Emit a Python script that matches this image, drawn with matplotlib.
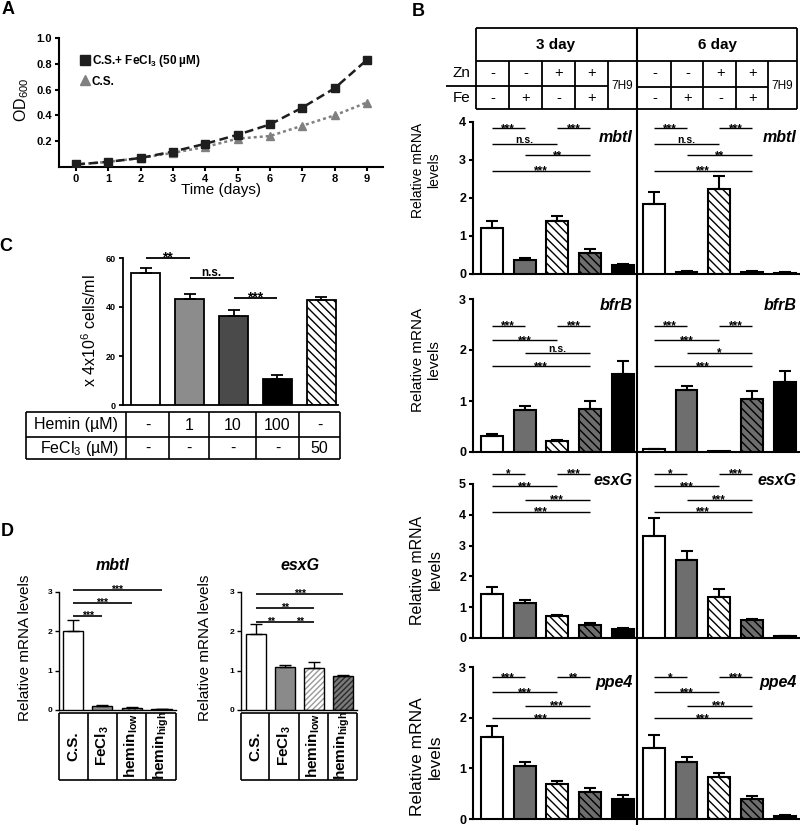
import numpy as np
import matplotlib
matplotlib.use("Agg")
import matplotlib.pyplot as plt
from matplotlib.lines import Line2D

REG = ['Liberation Sans', 'DejaVu Sans']
plt.rcParams['font.family'] = REG
plt.rcParams['mathtext.fontset'] = 'custom'
plt.rcParams['mathtext.rm'] = 'Liberation Sans'
plt.rcParams['mathtext.it'] = 'Liberation Sans:italic'
plt.rcParams['mathtext.bf'] = 'Liberation Sans:bold'
plt.rcParams['mathtext.default'] = 'regular'
plt.rcParams['hatch.linewidth'] = 1.0

# ---------------- data ----------------
# A: growth curve
days = np.arange(10)
od_fe = [0.02, 0.04, 0.07, 0.12, 0.18, 0.25, 0.33, 0.46, 0.61, 0.83]
od_cs = [0.02, 0.04, 0.07, 0.11, 0.155, 0.22, 0.24, 0.32, 0.40, 0.50]

# B: header
zn_row = ['-', '-', '+', '+']
fe_row = ['-', '+', '-', '+']
day_titles = ['3 day', '6 day']

# B: relative mRNA levels (5 conditions per day) and upper error
mbti_d3 = [1.21, 0.37, 1.39, 0.54, 0.23]
mbti_d3_err = [0.18, 0.06, 0.13, 0.11, 0.03]
mbti_d6 = [1.83, 0.06, 2.23, 0.05, 0.03]
mbti_d6_err = [0.33, 0.01, 0.35, 0.02, 0.01]
bfrb_d3 = [0.31, 0.83, 0.21, 0.85, 1.53]
bfrb_d3_err = [0.04, 0.08, 0.02, 0.15, 0.25]
bfrb_d6 = [0.05, 1.21, 0.01, 1.03, 1.38]
bfrb_d6_err = [0.01, 0.08, 0.0, 0.16, 0.20]
esxg_d3 = [1.42, 1.12, 0.72, 0.43, 0.30]
esxg_d3_err = [0.24, 0.12, 0.03, 0.06, 0.03]
esxg_d6 = [3.32, 2.53, 1.34, 0.60, 0.07]
esxg_d6_err = [0.58, 0.30, 0.24, 0.03, 0.01]
ppe4_d3 = [1.62, 1.05, 0.69, 0.53, 0.39]
ppe4_d3_err = [0.21, 0.08, 0.06, 0.09, 0.08]
ppe4_d6 = [1.41, 1.13, 0.82, 0.39, 0.06]
ppe4_d6_err = [0.24, 0.09, 0.09, 0.06, 0.01]

# significance: (bar i, bar j, height, label)
mbti_sig_d3 = [(0, 1, 3.83, '***'), (2, 3, 3.83, '***'), (0, 2, 3.41, 'n.s.'), (1, 3, 3.12, '**'), (0, 3, 2.72, '***')]
mbti_sig_d6 = [(0, 1, 3.83, '***'), (2, 3, 3.83, '***'), (0, 2, 3.41, 'n.s.'), (1, 3, 3.12, '**'), (0, 3, 2.72, '***')]
bfrb_sig_d3 = [(0, 1, 2.48, '***'), (2, 3, 2.48, '***'), (0, 2, 2.19, '***'), (1, 3, 1.94, 'n.s.'), (0, 3, 1.68, '***')]
bfrb_sig_d6 = [(0, 1, 2.48, '***'), (2, 3, 2.48, '***'), (0, 2, 2.19, '***'), (1, 3, 1.94, '*'), (0, 3, 1.68, '***')]
esxg_sig_d3 = [(0, 1, 5.33, '*'), (2, 3, 5.33, '***'), (0, 2, 4.92, '***'), (1, 3, 4.49, '***'), (0, 3, 4.09, '***')]
esxg_sig_d6 = [(0, 1, 5.33, '*'), (2, 3, 5.33, '***'), (0, 2, 4.92, '***'), (1, 3, 4.49, '***'), (0, 3, 4.09, '***')]
ppe4_sig_d3 = [(0, 1, 2.80, '***'), (2, 3, 2.80, '**'), (0, 2, 2.50, '***'), (1, 3, 2.24, '***'), (0, 3, 1.99, '***')]
ppe4_sig_d6 = [(0, 1, 2.80, '*'), (2, 3, 2.80, '***'), (0, 2, 2.50, '***'), (1, 3, 2.24, '***'), (0, 3, 1.99, '***')]

# C: cell counts
hemin_conc = ['-', '1', '10', '100', '-']
fecl3_conc = ['-', '-', '-', '-', '50']
cells = [54.0, 43.4, 36.2, 10.6, 42.9]
cells_err = [2.0, 1.8, 2.7, 1.5, 1.3]
cells_sig = [(0, 1, 60.1, '**'), (1, 2, 52.0, 'n.s.'), (2, 3, 43.8, '***')]

# D: hemin vs FeCl3
d_labels = ['C.S.', 'FeCl$_3$', 'hemin$_{low}$', 'hemin$_{high}$']
d_mbti = [2.00, 0.10, 0.06, 0.02]
d_mbti_err = [0.30, 0.02, 0.01, 0.01]
d_esxg = [1.92, 1.10, 1.06, 0.86]
d_esxg_err = [0.26, 0.05, 0.15, 0.04]
d_mbti_sig = [(0, 1, 2.39, '***'), (0, 2, 2.72, '***'), (0, 3, 3.05, '***')]
d_esxg_sig = [(0, 3, 2.95, '***'), (0, 2, 2.60, '**'), (0, 1, 2.25, '**'), (1, 2, 2.25, '**')]

# ---------------- helpers ----------------
W, H = 800, 825
fig = plt.figure(figsize=(W / 100, H / 100), dpi=100)


def px_axes(x0, y0, x1, y1):
    ax = fig.add_axes([x0 / W, 1 - y1 / H, (x1 - x0) / W, (y1 - y0) / H])
    ax.patch.set_visible(False)
    return ax


def ftext(x, y, s, **kw):
    kw.setdefault('ha', 'center')
    kw.setdefault('va', 'center')
    fig.text(x / W, 1 - y / H, s, **kw)


def style_ax(ax, lw, fs, yticks, ylabels=None):
    for s in ['top', 'right']:
        ax.spines[s].set_visible(False)
    ax.spines['left'].set_linewidth(lw)
    ax.spines['bottom'].set_linewidth(lw)
    if ylabels is None:
        ylabels = [str(t) for t in yticks]
    ax.set_yticks(yticks, labels=ylabels, fontsize=fs, fontweight='bold')
    ax.spines['left'].set_bounds(0, yticks[-1])
    ax.tick_params(axis='y', width=lw, length=3, pad=2)


def draw_bars(ax, xs, means, errs, styles, width, lw, cap):
    for x, m, e, (face, hatch, hcol) in zip(xs, means, errs, styles):
        if hatch:
            ax.bar(x, m, width, color=face, hatch=hatch, edgecolor=hcol, linewidth=0, zorder=2)
            ax.bar(x, m, width, color='none', edgecolor='black', linewidth=lw, zorder=3)
        else:
            ax.bar(x, m, width, color=face, edgecolor='black', linewidth=lw, zorder=3)
        if e > 0:
            ax.errorbar(x, m, yerr=[[0], [e]], fmt='none', ecolor='black',
                        elinewidth=lw, capsize=cap, capthick=lw, zorder=4)


def sig(ax, x1, x2, y, label, fs, lw=1.0, star_fs=None):
    ax.plot([x1, x2], [y, y], color='black', lw=lw, clip_on=False, solid_capstyle='butt')
    if '*' in label:
        size = star_fs
        off = -0.3 * star_fs
    else:
        size = fs
        off = 1.0
    ax.annotate(label, ((x1 + x2) / 2, y), xytext=(0, off), textcoords='offset points',
                ha='center', va='baseline', fontsize=size, fontweight='bold',
                annotation_clip=False)


ov = fig.add_axes([0, 0, 1, 1], zorder=10)
ov.set_xlim(0, W)
ov.set_ylim(H, 0)
ov.axis('off')


def hline(y, x0, x1, lw=1.3):
    ov.plot([x0, x1], [y, y], color='black', lw=lw, solid_capstyle='butt')


def vline(x, y0, y1, lw=1.3):
    ov.plot([x, x], [y0, y1], color='black', lw=lw, solid_capstyle='butt')


# ---------------- panel letters ----------------
for letter, (x, y) in zip('ABCD', [(8, 10), (418, 11), (6, 247), (7, 531)]):
    ftext(x, y, letter, fontsize=13, fontweight='bold')

# ---------------- A ----------------
axA = px_axes(59, 38, 383, 167)
axA.plot(days, od_cs, color='#808080', ls=(0, (1.2, 1.2)), lw=1.8, marker='^', ms=6, zorder=2)
axA.plot(days, od_fe, color='#1e1e1e', ls=(0, (3.5, 1.8)), lw=1.8, marker='s', ms=5.5, zorder=3)
axA.set_xlim(-0.53, 9.5)
axA.set_ylim(0, 1.0)
style_ax(axA, 1.5, 8, [0.2, 0.4, 0.6, 0.8, 1.0], ['0.2', '0.4', '0.6', '0.8', '1.0'])
axA.set_xticks(days, labels=[str(d) for d in days], fontsize=8, fontweight='bold')
axA.tick_params(axis='x', width=1.5, length=3, pad=2)
handles = [Line2D([], [], marker='s', color='#1e1e1e', ls='none', ms=7),
           Line2D([], [], marker='^', color='#808080', ls='none', ms=7)]
axA.legend(handles, ['C.S.+ FeCl$_3$ (50 µM)', 'C.S.'], loc='upper left',
           bbox_to_anchor=(0.05, 0.92), frameon=False, handlelength=0.8,
           handletextpad=0.2, labelspacing=0.55, borderaxespad=0,
           prop={'weight': 'bold', 'size': 8.5})
ftext(22, 100, 'OD$_{600}$', fontsize=11.5, rotation=90)
ftext(221, 190, 'Time (days)', fontsize=11)

# ---------------- B header ----------------
hx = [476, 509, 542, 575, 608, 637, 671, 703, 736, 768, 797]
hline(28, 476, 797)
hline(61, 476, 797)
hline(109, 476, 797)
hline(86, 446, 608)
hline(87, 637, 768)
vline(476, 28, 109)
vline(797, 28, 109)
for x in hx[1:5] + hx[6:10]:
    vline(x, 61, 109)
vline(637, 28, 825, lw=1.5)
ftext(556, 45, day_titles[0], fontsize=11, fontweight='bold')
ftext(717, 45, day_titles[1], fontsize=11, fontweight='bold')
ftext(470, 73, 'Zn', fontsize=11, ha='right')
ftext(470, 98, 'Fe', fontsize=11, ha='right')
for half in (0, 5):
    for k in range(4):
        xc = (hx[half + k] + hx[half + k + 1]) / 2 + (1 if half else 0)
        ftext(xc, 73, zn_row[k], fontsize=10.5)
        ftext(xc, 98, fe_row[k], fontsize=10.5)
    xc = (hx[half + 4] + hx[half + 5]) / 2 if half == 0 else (768 + 797) / 2
    ftext(xc, 86, '7H9', fontsize=8.5)

# ---------------- B rows ----------------
b_styles = [('white', None, None), ('#6e6e6e', None, None), ('white', '\\\\\\\\', 'black'),
            ('#6e6e6e', '\\\\\\\\', 'black'), ('black', None, None)]
pos3 = np.arange(5)
pos6 = np.arange(5) + 4.95

rows = [
    ('mbtI', mbti_d3, mbti_d3_err, mbti_d6, mbti_d6_err, mbti_sig_d3, mbti_sig_d6,
     (122, 274), 4.0, [0, 1, 2, 3, 4], 3.6, (426, 170), 10),
    ('bfrB', bfrb_d3, bfrb_d3_err, bfrb_d6, bfrb_d6_err, bfrb_sig_d3, bfrb_sig_d6,
     (299, 452), 3.0, [0, 1, 2, 3], 2.87, (426, 360), 11),
    ('esxG', esxg_d3, esxg_d3_err, esxg_d6, esxg_d6_err, esxg_sig_d3, esxg_sig_d6,
     (462.4, 638), 5.7, [0, 1, 2, 3, 4, 5], 5.1, (426, 570), 11.5),
    ('ppe4', ppe4_d3, ppe4_d3_err, ppe4_d6, ppe4_d6_err, ppe4_sig_d3, ppe4_sig_d6,
     (667, 819), 3.0, [0, 1, 2, 3], 2.7, (426, 757), 12.5),
]
for gene, m3, e3, m6, e6, s3, s6, (ytp, ybp), ytop, ticks, gy, (lx, ly), lfs in rows:
    ax = px_axes(473, ytp, 800, ybp)
    draw_bars(ax, pos3, m3, e3, b_styles, 0.67, 1.5, 4)
    draw_bars(ax, pos6, m6, e6, b_styles, 0.67, 1.5, 4)
    ax.set_xlim(-0.58, 9.42)
    ax.set_ylim(0, ytop)
    style_ax(ax, 1.5, 9, ticks)
    ax.set_xticks([])
    for i, j, y, lab in s3:
        sig(ax, pos3[i], pos3[j], y, lab, 7.5, star_fs=8.5)
    for i, j, y, lab in s6:
        sig(ax, pos6[i], pos6[j], y, lab, 7.5, star_fs=8.5)
    ax.text(4.31, gy, gene, ha='right', va='center', fontsize=11.5,
            fontweight='bold', fontstyle='italic')
    ax.text(9.33, gy, gene, ha='right', va='center', fontsize=11.5,
            fontweight='bold', fontstyle='italic')
    ftext(lx, ly, 'Relative mRNA\nlevels', fontsize=lfs, rotation=90, linespacing=1.25)

# ---------------- C ----------------
c_styles = [('white', None, None), ('#8c8c8c', None, None), ('#4a4a4a', None, None),
            ('black', None, None), ('white', '\\\\\\\\', 'black')]
axC = px_axes(123, 258, 338, 405)
xc_pos = np.arange(5)
draw_bars(axC, xc_pos, cells, cells_err, c_styles, 0.66, 1.3, 4.5)
axC.set_xlim(-0.52, 4.38)
axC.set_ylim(0, 60)
style_ax(axC, 1.3, 6.5, [0, 20, 40, 60])
axC.set_xticks([])
for i, j, y, lab in cells_sig:
    sig(axC, xc_pos[i], xc_pos[j], y, lab, 8.5, lw=1.3, star_fs=10)
ftext(90, 331, 'x 4x10$^6$ cells/ml', fontsize=11.5, rotation=90)

cx = [26, 126, 169, 209, 256, 299, 340]
for y in (412, 437, 459):
    hline(y, cx[0], cx[-1], lw=1.2)
for x in cx:
    vline(x, 412, 459, lw=1.2)
ftext(76, 424.5, 'Hemin (µM)', fontsize=11.5)
ftext(80, 448, 'FeCl$_3$ (µM)', fontsize=11.5)
for k in range(5):
    xm = (cx[k + 1] + cx[k + 2]) / 2
    ftext(xm, 425, hemin_conc[k], fontsize=11.5)
    ftext(xm, 448, fecl3_conc[k], fontsize=11.5)

# ---------------- D ----------------
d_styles = [('white', None, None), ('#8a8a8a', None, None), ('white', '//////', '#9a9a9a'),
            ('#7a7a7a', '//////', '#2a2a2a')]
xd = np.arange(4)
for (x0, x1, xlim, vals, errs, sigs, title, tx, tab, ylx) in [
        (59, 176, (-0.47, 3.49), d_mbti, d_mbti_err, d_mbti_sig, 'mbtI', 113,
         [59, 88, 117, 146, 176], 25),
        (241, 357, (-0.52, 3.48), d_esxg, d_esxg_err, d_esxg_sig, 'esxG', 300,
         [241, 269, 299, 328, 357], 205)]:
    ax = px_axes(x0, 592, x1, 710)
    draw_bars(ax, xd, vals, errs, d_styles, 0.68, 1.0, 4)
    ax.set_xlim(*xlim)
    ax.set_ylim(0, 3)
    style_ax(ax, 1.0, 6, [0, 1, 2, 3])
    ax.set_xticks([])
    for i, j, y, lab in sigs:
        sig(ax, xd[i], xd[j], y, lab, 7, lw=1.2, star_fs=7.5)
    ftext(tx, 565, title, fontsize=11.5, fontweight='bold', fontstyle='italic')
    ftext(ylx, 648, 'Relative mRNA levels', fontsize=11, rotation=90)
    hline(713, tab[0], tab[-1], lw=1.2)
    hline(780, tab[0], tab[-1], lw=1.2)
    for x in tab:
        vline(x, 713, 780, lw=1.2)
    for k in range(4):
        ftext((tab[k] + tab[k + 1]) / 2, 746, d_labels[k], fontsize=11,
              fontweight='bold', rotation=90)

fig.savefig('out.png', dpi=100)
